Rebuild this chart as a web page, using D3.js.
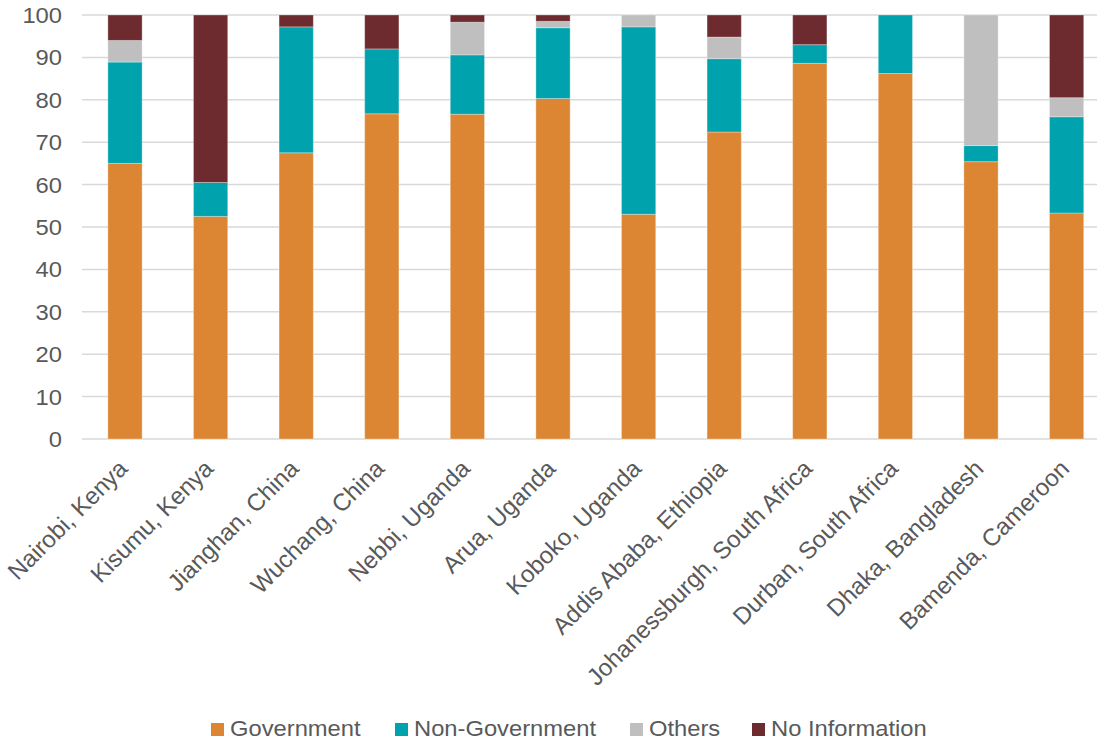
<!DOCTYPE html>
<html>
<head>
<meta charset="utf-8">
<script src="https://cdn.jsdelivr.net/npm/d3@7"></script>
<style>
  body { margin: 0; background: #fff; }
  text { font-family: "Liberation Sans", Arial, sans-serif; fill: #595959; }
</style>
</head>
<body>
<svg id="chart" width="1097" height="740"></svg>
<script>
var cities = ["Nairobi, Kenya", "Kisumu, Kenya", "Jianghan, China", "Wuchang, China",
    "Nebbi, Uganda", "Arua, Uganda", "Koboko, Uganda", "Addis Ababa, Ethiopia",
    "Johanessburgh, South Africa", "Durban, South Africa", "Dhaka, Bangladesh", "Bamenda, Cameroon"];
var seriesNames = ["Government", "Non-Government", "Others", "No Information"];
var government    = [65.0, 52.5, 67.5, 76.7, 76.6, 80.3, 53.0, 72.4, 88.6, 86.2, 65.4, 53.3];
var nonGovernment = [23.9,  8.0, 29.7, 15.3, 14.0, 16.7, 44.2, 17.3,  4.4, 13.8,  3.8, 22.7];
var others        = [ 5.1,  0.0,  0.0,  0.0,  7.7,  1.5,  2.8,  5.1,  0.0,  0.0, 30.8,  4.5];
var noInformation = [ 6.0, 39.5,  2.8,  8.0,  1.7,  1.5,  0.0,  5.2,  7.0,  0.0,  0.0, 19.5];
var yTicks = [0, 10, 20, 30, 40, 50, 60, 70, 80, 90, 100];
var seg_color = ["#DC8633", "#00A3AD", "#BFBFBF", "#6E2B2F"];

var svg = d3.select("#chart");
var plotLeft = 82, plotRight = 1097, plotTop = 15, plotBottom = 439;

// build rows for the stack
var rows = cities.map(function (c, i) {
    return { city: c, "Government": government[i], "Non-Government": nonGovernment[i],
        "Others": others[i], "No Information": noInformation[i] };
});

var x = d3.scaleBand().domain(cities).range([82.2, 1109.4]).paddingInner(0.6).paddingOuter(0.3);
var y = d3.scaleLinear().domain([0, 100]).range([plotBottom, plotTop]);

// gridlines
svg.append("g").selectAll("line")
    .data(yTicks).enter().append("line")
    .attr("x1", plotLeft).attr("x2", plotRight)
    .attr("y1", function (d) { return y(d); }).attr("y2", function (d) { return y(d); })
    .style("stroke", "#d9d9d9").style("stroke-width", 1.5);

// y labels (slightly wide, like the original)
svg.append("g").selectAll("text")
    .data(yTicks).enter().append("text")
    .attr("transform", function (d) { return "translate(62," + y(d) + ") scale(1.08,1)"; })
    .attr("dy", "0.36em")
    .attr("text-anchor", "end")
    .style("font-size", "22px")
    .text(function (d) { return d; });

var stack = d3.stack().keys(seriesNames);
var layers = stack(rows);

svg.append("g").selectAll("g")
    .data(layers).enter().append("g")
    .attr("fill", function (d, i) { return seg_color[i]; })
    .selectAll("rect")
    .data(function (d) { return d; }).enter().append("rect")
    .attr("x", function (d) { return x(d.data.city); })
    .attr("width", x.bandwidth())
    .attr("y", function (d) { return y(d[1]); })
    .attr("height", function (d) { return y(d[0]) - y(d[1]); })
    .style("stroke", "#fff").style("stroke-opacity", 0.3).style("stroke-width", 1);

// x labels
svg.append("g").selectAll("text")
    .data(cities).enter().append("text")
    .attr("transform", function (d) {
        return "translate(" + (x(d) + x.bandwidth() / 2 + 4) + ",470) rotate(-45)";
    })
    .attr("text-anchor", "end")
    .style("font-size", "24px")
    .text(function (d) { return d; });

// legend
var legendX = [211, 395, 630, 752];
var legend = svg.append("g").selectAll("g")
    .data(seriesNames).enter().append("g")
    .attr("transform", function (d, i) { return "translate(" + legendX[i] + ",723)"; });
legend.append("rect")
    .attr("width", 13).attr("height", 13)
    .style("fill", function (d, i) { return seg_color[i]; });
legend.append("text")
    .attr("transform", "translate(19,13) scale(1.08,1)")
    .style("font-size", "22px")
    .text(function (d) { return d; });
</script>
</body>
</html>
